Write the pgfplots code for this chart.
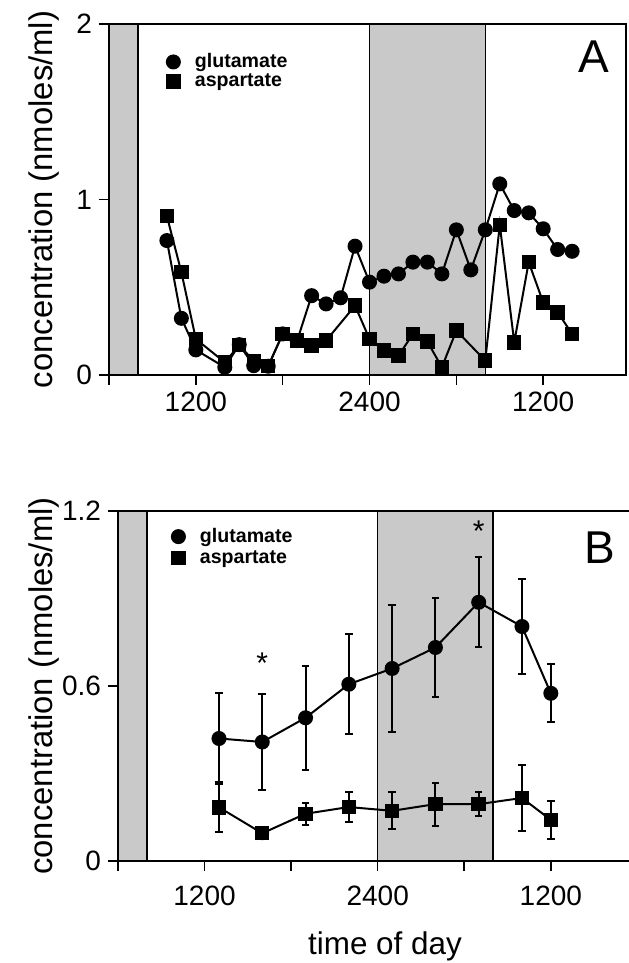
\documentclass[border=0pt]{standalone}
\usepackage{fontspec}
\setmainfont{Liberation Sans}
\usepackage{pgfplots}
\pgfplotsset{compat=1.18}
\begin{document}
\begin{tikzpicture}
\pgfplotsset{
  panel/.style={
    scale only axis,
    axis line style={line width=1pt},
    xmin=6,
    tick align=outside, tick pos=left, major tick length=5pt,
    tick style={line width=0.8pt, black},
    xtick={6,12,18,24,30,36}, xticklabels={,1200,,2400,,1200},
    tick label style={font=\fontsize{14}{16}\selectfont},
    /pgf/number format/assume math mode=true,
    label style={font=\fontsize{16.4}{19}\selectfont},
    legend cell align=left,
    legend image code/.code={\draw[##1] plot coordinates {(0pt,0pt)};},
    legend style={draw=none, fill=none, inner sep=0pt,
      font=\bfseries\fontsize{9.8}{12}\selectfont,
      nodes={inner sep=0pt},
      /tikz/every odd column/.append style={column sep=7.5pt}},
  },
  glu/.style={black, line width=1pt, mark=*, mark size=3.25pt},
  asp/.style={black, line width=1pt, mark=square*, mark size=3.1pt},
  band/.style={fill=gray!42, draw=black, line width=0.75pt, forget plot},
  ebar/.style={error bars/.cd, y dir=both, y explicit,
    error bar style={line width=1pt, black},
    error mark options={rotate=90, black, mark size=1.9pt, line width=1pt}},
}

% panel A
\begin{axis}[panel,
  at={(54.5pt,294pt)}, anchor=south west,
  width=258.7pt, height=175.5pt,
  xmax=41.75, ymin=0, ymax=2, ytick={0,1,2},
  ylabel={concentration (nmoles/ml)},
  ylabel style={at={(axis description cs:-0.1256,0.5)}, anchor=center},
  legend style={at={(axis cs:9.97,1.835)}, anchor=north west, row sep=1.5pt}]
\addplot[band] coordinates {(6,0) (6,2) (8,2) (8,0)} -- cycle;
\addplot[band] coordinates {(24,0) (24,2) (32,2) (32,0)} -- cycle;
\addplot[glu] coordinates {
(10,0.766) (11,0.323) (12,0.143) (14,0.044) (15,0.173) (16,0.053) (17,0.05)
(18,0.234) (19,0.196) (20,0.452) (21,0.405) (22,0.44) (23,0.734) (24,0.529)
(25,0.563) (26,0.576) (27,0.643) (28,0.643) (29,0.576) (30,0.827) (31,0.599)
(32,0.827) (33,1.089) (34,0.937) (35,0.924) (36,0.833) (37,0.715) (38,0.705)
};
\addlegendentry{glutamate}
\addplot[asp] coordinates {
(10,0.905) (11,0.586) (12,0.205) (14,0.072) (15,0.17) (16,0.08) (17,0.05)
(18,0.234) (19,0.196) (20,0.167) (21,0.196) (23,0.395) (24,0.205) (25,0.139)
(26,0.110) (27,0.234) (28,0.19) (29,0.044) (30,0.253) (32,0.082) (33,0.856)
(34,0.186) (35,0.643) (36,0.414) (37,0.357) (38,0.234)
};
\addlegendentry{aspartate}
\node[font=\fontsize{23}{26}\selectfont] at (axis cs:39.52,1.812) {A};
\end{axis}

% panel B
\begin{axis}[panel,
  at={(59pt,51pt)}, anchor=south west,
  width=259.7pt, height=175pt,
  xmax=42, ymin=0, ymax=1.2, ytick={0,0.6,1.2},
  xticklabel style={yshift=-4pt},
  ylabel={concentration (nmoles/ml)},
  ylabel style={at={(axis description cs:-0.1425,0.5)}, anchor=center},
  xlabel={time of day},
  xlabel style={at={(axis description cs:0.514,-0.243)}, anchor=center,
    font=\fontsize{15.7}{18}\selectfont},
  legend style={at={(axis cs:9.71,1.143)}, anchor=north west, row sep=2.5pt}]
\addplot[band] coordinates {(6,0) (6,1.2) (8,1.2) (8,0)} -- cycle;
\addplot[band] coordinates {(24,0) (24,1.2) (32,1.2) (32,0)} -- cycle;
\addplot[glu, ebar] coordinates {
(13,0.420) +- (0,0.155)
(16,0.408) +- (0,0.163)
(19,0.491) +- (0,0.178)
(22,0.606) +- (0,0.171)
(25,0.660) +- (0,0.218)
(28,0.732) +- (0,0.170)
(31,0.887) +- (0,0.155)
(34,0.804) +- (0,0.164)
(36,0.575) +- (0,0.100)
};
\addlegendentry{glutamate}
\addplot[asp, ebar] coordinates {
(13,0.184) +- (0,0.086)
(16,0.095) +- (0,0.010)
(19,0.162) +- (0,0.037)
(22,0.185) +- (0,0.053)
(25,0.172) +- (0,0.064)
(28,0.195) +- (0,0.074)
(31,0.195) +- (0,0.040)
(34,0.216) +- (0,0.113)
(36,0.141) +- (0,0.064)
};
\addlegendentry{aspartate}
\addplot[only marks, mark=*, mark size=3.25pt, black, forget plot] coordinates {(16,0.095)};
\node[anchor=north, inner sep=0pt, font=\fontsize{15}{17}\selectfont] at (axis cs:16,0.715) {*};
\node[anchor=north, inner sep=0pt, font=\fontsize{15}{17}\selectfont] at (axis cs:31,1.169) {*};
\node[font=\fontsize{23}{26}\selectfont] at (axis cs:39.4,1.073) {B};
\end{axis}

\pgfresetboundingbox
\path[use as bounding box] (0,0) rectangle (314pt,481.5pt);
\end{tikzpicture}
\end{document}
